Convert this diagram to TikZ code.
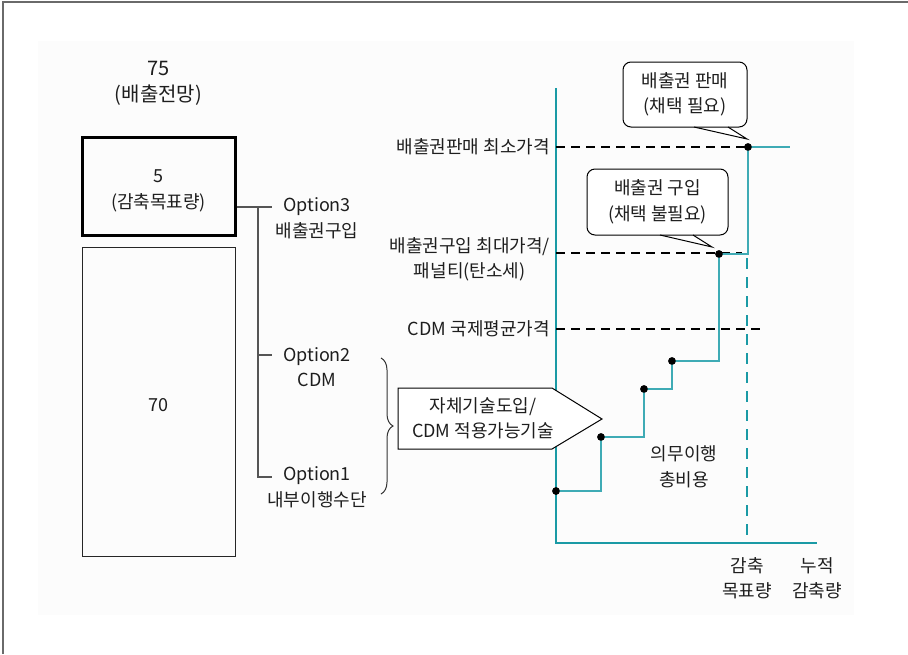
\documentclass[tikz,border=0pt]{standalone}
\usepackage{fontspec}
\setmainfont{Noto Sans CJK KR}
\usetikzlibrary{decorations.pathreplacing}
\definecolor{tealA}{HTML}{1A9AA5}
\definecolor{tealB}{HTML}{3FABB5}
\definecolor{linegray}{HTML}{555555}
\definecolor{bgfaint}{HTML}{FCFCFC}
\definecolor{framegray}{HTML}{6A6A6A}
\definecolor{txtcol}{HTML}{1E1E1E}
\begin{document}
\begin{tikzpicture}[x=1pt,y=-1pt,
  font=\fontsize{18}{25.5}\selectfont,
  txt/.style={inner sep=0pt, align=center, text=txtcol},
  conn/.style={linegray, line width=1.2pt},
  axisline/.style={tealA, line width=2.6pt},
  stepline/.style={tealB, line width=1.4pt},
  blackdash/.style={black, line width=2pt, dash pattern=on 9pt off 6pt},
  tealdash/.style={tealA, line width=2.2pt, dash pattern=on 11pt off 8pt},
  dotnode/.style={circle, fill=black, inner sep=0pt, minimum size=7.5pt},
  callbox/.style={draw=black, line width=1pt, rounded corners=8pt, fill=white, inner sep=0pt, align=center, text=txtcol},
]
\useasboundingbox (0,0) rectangle (908,654);
% frame and faint background
\fill[bgfaint] (38,41) rectangle (854,615);
\draw[framegray, line width=2pt] (3,654) -- (3,2) -- (908,2);

% left column
\node[txt, font=\fontsize{20}{26}\selectfont] (title) at (158.5,83) {75\\(배출전망)};
\node[draw=black, line width=3pt, minimum width=153pt, minimum height=98pt, inner sep=0pt] (box1) at (158.5,186) {};
\node[txt] (box1txt) at (158.5,191) {5\\(감축목표량)};
\node[draw=black!85, line width=1pt, minimum width=153pt, minimum height=309pt, inner sep=0pt] (box2) at (158.5,401.5) {};
\node[txt] (box2txt) at (158.5,405) {70};

% option connectors
\coordinate (v3) at (258,207);
\coordinate (v2) at (258,355);
\coordinate (v1) at (258,477);
\coordinate (t3) at (272,207);
\coordinate (t2) at (272,355);
\coordinate (t1) at (272,477);
\draw[conn] (box1.east |- v3) -- (v3) -- (v1) -- (t1);
\draw[conn] (v3) -- (t3);
\draw[conn] (v2) -- (t2);
\node[txt] (opt3) at (317,218) {Option3\\배출권구입};
\node[txt] (opt2) at (317,367) {Option2\\CDM};
\node[txt] (opt1) at (317,487) {Option1\\내부이행수단};

% brace
\coordinate (brtop) at (381,358);
\coordinate (brbot) at (381,494);
\draw[black!80, line width=1pt, decorate, decoration={brace, amplitude=12pt}] (brtop) -- (brbot);

% axes
\coordinate (ytop) at (556,88);
\coordinate (O) at (556,543);
\coordinate (xend) at (817,543);
\draw[axisline] (ytop) -- (O) -- (xend);

% teal dashed target line
\coordinate (tdtop) at (747,258);
\coordinate (tdbot) at (747,543);
\draw[tealdash] (tdtop) -- (tdbot);

% black dashed price lines
\coordinate (h1a) at (556,147); \coordinate (h1b) at (748,147);
\coordinate (h2a) at (556,253); \coordinate (h2b) at (742,253);
\coordinate (h3a) at (556,329); \coordinate (h3b) at (762,329);
\draw[blackdash] (h1a) -- (h1b);
\draw[blackdash] (h2a) -- (h2b);
\draw[blackdash] (h3a) -- (h3b);

% price labels
\node[txt, anchor=east] (lab1) at (550,147) {배출권판매 최소가격};
\node[txt, anchor=east] (lab2) at (550,259.5) {배출권구입 최대가격/\\패널티(탄소세)};
\node[txt, anchor=east] (lab3) at (550,329) {CDM 국제평균가격};

% step cost curve
\node[dotnode] (p0) at (556,491) {};
\node[dotnode] (p1) at (601,437) {};
\node[dotnode] (p2) at (644,389) {};
\node[dotnode] (p3) at (672,361) {};
\node[dotnode] (p4) at (719,254) {};
\node[dotnode] (p5) at (748,147) {};
\coordinate (pend) at (790,147);
\draw[stepline] (p0.center) -| (p1.center) -| (p2.center) -| (p3.center) -| (p4.center) -| (p5.center) -- (pend);
\foreach \n in {p0,p1,p2,p3,p4,p5} \node[dotnode] at (\n) {};

% pentagon arrow
\coordinate (pa) at (398,388);
\coordinate (pb) at (552,388);
\coordinate (pc) at (602,419);
\coordinate (pd) at (552,449);
\coordinate (pe) at (398,449);
\draw[black, line width=1pt, fill=white] (pa) -- (pb) -- (pc) -- (pd) -- (pe) -- cycle;
\node[txt] (pentxt) at (483,418.5) {자체기술도입/\\CDM 적용가능기술};

% callout 1
\node[callbox, minimum width=124pt, minimum height=65pt] (c1) at (685,94.5) {배출권 판매\\(채택 필요)};
\coordinate (c1a) at (694,127);
\coordinate (c1b) at (728,127);
\coordinate (c1t) at (747,139);
\fill[white] ([yshift=-1.5pt]c1a) -- (c1t) -- ([yshift=-1.5pt]c1b) -- cycle;
\draw[black, line width=1pt] (c1a) -- (c1t) -- (c1b);

% callout 2
\node[callbox, minimum width=141pt, minimum height=66pt] (c2) at (657.5,202) {배출권 구입\\(채택 불필요)};
\coordinate (c2a) at (660,235);
\coordinate (c2b) at (693,235);
\coordinate (c2t) at (712,247);
\fill[white] ([yshift=-1.5pt]c2a) -- (c2t) -- ([yshift=-1.5pt]c2b) -- cycle;
\draw[black, line width=1pt] (c2a) -- (c2t) -- (c2b);

% other labels
\node[txt] (cost) at (684,467) {의무이행\\총비용};
\node[txt] (xl1) at (747,578) {감축\\목표량};
\node[txt] (xl2) at (817,578) {누적\\감축량};
\end{tikzpicture}
\end{document}
